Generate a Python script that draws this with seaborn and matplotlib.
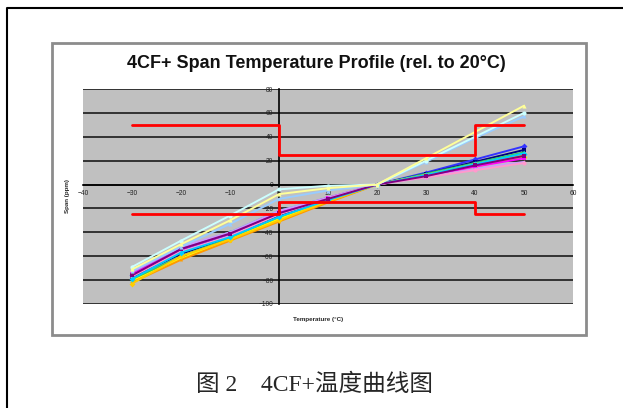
import pandas as pd
import seaborn as sns
import matplotlib.pyplot as plt
from matplotlib.patches import Rectangle
from matplotlib.lines import Line2D

# temperature points (deg C)
temps = [-30, -20, -10, 0, 10, 20, 30, 40, 50]

# span drift per unit (ppm, relative to 20 C)
s_blue = [-76, -55, -42, -24, -12, 0, 10, 21, 32]
s_navy = [-78, -58, -44, -26, -13, 0, 9, 19, 29]
s_green = [-80, -60, -45, -28, -14, 0, 9, 18, 27]
s_teal = [-74, -53, -40, -22, -11, 0, 8, 17, 26]
s_yellow = [-81, -62, -46, -29, -14, 0, 8, 17, 25]
s_orange = [-82, -63, -47, -31, -15, 0, 8, 16, 24]
s_gold = [-83, -60, -46, -30, -14, 0, 7, 15, 23]
s_magenta = [-75, -54, -41, -23, -11, 0, 7, 15, 22]
s_lavender = [-73, -52, -40, -22, -11, 0, 6, 13, 19]
s_pink = [-77, -56, -43, -25, -12, 0, 6, 12, 18]
s_cyan = [-79, -57, -44, -27, -13, 0, 8, 17, 26]
s_violet = [-76, -54, -41, -24, -12, 0, 7, 16, 24]
s_ltyellow = [-71, -50, -30, -8, -3, 0, 22, 44, 66]
s_ltcyan = [-69, -47, -26, -4, -1, 0, 20, 40, 60]
s_paleblue = [-72, -52, -33, -12, -5, 0, 19, 39, 57]

# spec limits
lim_x = [-30, 0, 0, 40, 40, 50]
lim_upper = [50, 50, 25, 25, 50, 50]
lim_lower = [-25, -25, -15, -15, -25, -25]

series = {
    "U1": (s_blue, "#3333FF"),
    "U2": (s_navy, "#000080"),
    "U3": (s_green, "#33CC66"),
    "U4": (s_teal, "#33CCCC"),
    "U5": (s_yellow, "#FFFF00"),
    "U6": (s_orange, "#FF9900"),
    "U7": (s_gold, "#FFCC00"),
    "U8": (s_magenta, "#FF00FF"),
    "U9": (s_lavender, "#CC99FF"),
    "U10": (s_pink, "#FF99CC"),
    "U11": (s_cyan, "#00CCFF"),
    "U12": (s_violet, "#800080"),
    "U13": (s_paleblue, "#99CCFF"),
    "U14": (s_ltcyan, "#CCFFFF"),
    "U15": (s_ltyellow, "#FFFF99"),
}

rows = []
for name, (vals, col) in series.items():
    for t, v in zip(temps, vals):
        rows.append({"unit": name, "temp": t, "span": v})
df = pd.DataFrame(rows)
palette = {name: col for name, (vals, col) in series.items()}
marker_cycle = ["D", "s", "^", "o", "v", "*", "D", "s", "^", "o", "D", "s", "^", "o", "^"]
markers = {name: marker_cycle[i] for i, name in enumerate(series)}

sns.set_style("white")
plt.rcParams["font.family"] = ["Liberation Sans", "DejaVu Sans"]

fig = plt.figure(figsize=(6.23, 4.08), dpi=100)
ax = fig.add_axes([83 / 623, 1 - 304 / 408, 490 / 623, 215 / 408])
ax.set_facecolor("#C0C0C0")

sns.lineplot(data=df, x="temp", y="span", hue="unit", style="unit",
             palette=palette, markers=markers, dashes=False, legend=False,
             linewidth=1.4, markersize=3, markeredgewidth=0, ax=ax,
             zorder=3)

ax.plot(lim_x, lim_upper, color="#FF0000", lw=2.0, zorder=4)
ax.plot(lim_x, lim_lower, color="#FF0000", lw=2.0, zorder=4)

ax.set_xlim(-40, 60)
ax.set_ylim(-100, 80)
ax.set_xticks(range(-40, 61, 10))
ax.set_yticks(range(-100, 81, 20))
ax.yaxis.grid(True, color="#333333", lw=1.4)
ax.xaxis.grid(False)
ax.set_axisbelow(True)

for s in ["top", "right"]:
    ax.spines[s].set_visible(False)
ax.spines["left"].set_position(("data", 0))
ax.spines["bottom"].set_position(("data", 0))
ax.spines["left"].set_color("black")
ax.spines["bottom"].set_color("black")
ax.spines["left"].set_linewidth(1.2)
ax.spines["bottom"].set_linewidth(1.2)
ax.tick_params(axis="both", labelsize=4.8, length=3, width=0.8,
               direction="inout", pad=2.5, colors="#222222")
ax.set_xlabel("")
ax.set_ylabel("")

fig.text(318 / 623, 1 - 320 / 408, "Temperature (°C)", fontsize=4.5,
         fontweight="bold", ha="center", va="center")
fig.text(68 / 623, 1 - 196 / 408, "Span (ppm)", fontsize=4.5,
         fontweight="bold", ha="center", va="center", rotation=90)
fig.text(316 / 623, 1 - 64 / 408, "4CF+ Span Temperature Profile (rel. to 20°C)",
         fontsize=13, fontweight="bold", ha="center", va="center",
         color="#111111")

# inner chart frame
fig.patches.append(Rectangle((52 / 623, 1 - 335 / 408), 534 / 623, 292 / 408,
                             transform=fig.transFigure, fill=False,
                             edgecolor="#8C8C8C", lw=2.0))
# outer frame (only top and left visible)
fig.lines.append(Line2D([7 / 623, 7 / 623, 1], [0, 1 - 8 / 408, 1 - 8 / 408],
                        transform=fig.transFigure, color="black", lw=1.5))

fig.text(315 / 623, 1 - 385 / 408, "图 2　4CF+温度曲线图", fontsize=17,
         ha="center", va="center",
         family=["Liberation Serif", "Noto Sans CJK SC"])

fig.savefig("out.png", dpi=100)
